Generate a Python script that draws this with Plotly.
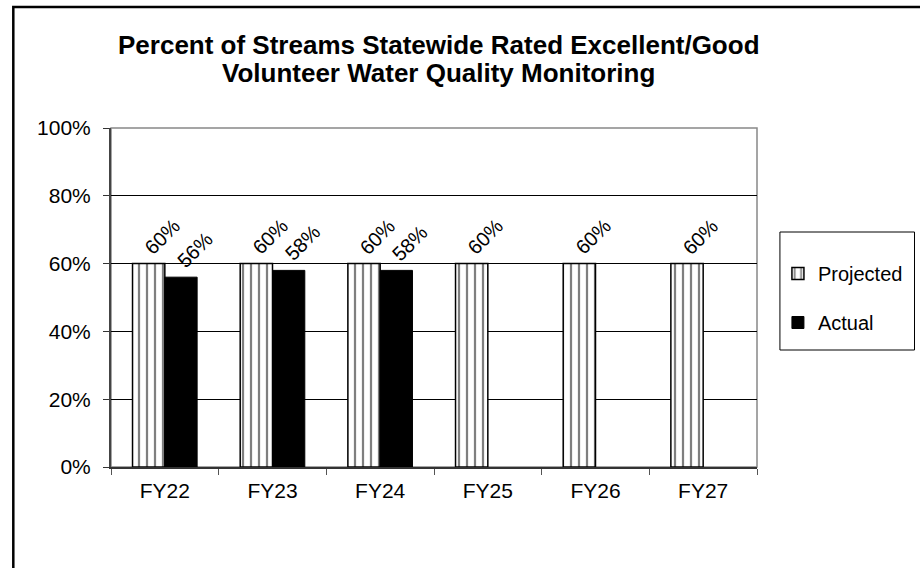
import plotly.graph_objects as go

categories = ["FY22", "FY23", "FY24", "FY25", "FY26", "FY27"]
projected = [60, 60, 60, 60, 60, 60]
actual = [56, 58, 58, None, None, None]
yticks = [0, 20, 40, 60, 80, 100]
ytick_labels = ["0%", "20%", "40%", "60%", "80%", "100%"]
title_lines = ["Percent of Streams Statewide Rated Excellent/Good",
               "Volunteer Water Quality Monitoring"]

FONT = "Arial, Liberation Sans, sans-serif"

fig = go.Figure()
fig.add_trace(go.Bar(
    x=categories, y=projected, name="Projected",
    marker=dict(color="white", line=dict(color="black", width=1.5),
                pattern=dict(shape="|", fgcolor="black", bgcolor="white",
                             size=8, solidity=0.28)),
    legendgroup="a",
))
fig.add_trace(go.Bar(
    x=categories, y=actual, name="Actual",
    marker=dict(color="black", line=dict(color="black", width=1)),
    legendgroup="b",
))

W, H = 920, 568
L, R, T, B = 111, 161, 128, 101
pw, ph = W - L - R, H - T - B

def px(x):
    return (x - L) / pw

def py(y):
    return (H - B - y) / ph

annotations = [
    dict(text="<b>" + title_lines[0] + "</b>", xref="paper", yref="paper",
         x=px(440), y=py(45), xanchor="center", yanchor="middle",
         showarrow=False, font=dict(size=26, family=FONT, color="black")),
    dict(text="<b>" + title_lines[1] + "</b>", xref="paper", yref="paper",
         x=px(440), y=py(73), xanchor="center", yanchor="middle",
         showarrow=False, font=dict(size=26, family=FONT, color="black")),
]

label_font = dict(size=20, family=FONT, color="black")
for cat, v in zip(categories, projected):
    annotations.append(dict(text=f"{v}%", x=cat, y=v, xref="x", yref="y",
                            xanchor="center", yanchor="middle", textangle=-45,
                            xshift=-3, yshift=27, showarrow=False, font=label_font))
for cat, v in zip(categories, actual):
    if v is None:
        continue
    annotations.append(dict(text=f"{v}%", x=cat, y=v, xref="x", yref="y",
                            xanchor="center", yanchor="middle", textangle=-45,
                            xshift=30, yshift=27, showarrow=False, font=label_font))

fig.update_layout(
    width=W, height=H,
    margin=dict(l=L, r=R, t=T, b=B),
    paper_bgcolor="white", plot_bgcolor="white",
    font=dict(family=FONT, size=21, color="black"),
    barmode="group", bargap=0.4, bargroupgap=0,
    showlegend=True,
    legend=dict(x=px(780), y=py(254), xanchor="left", yanchor="top",
                borderwidth=0, bgcolor="rgba(0,0,0,0)",
                font=dict(size=20, family=FONT), traceorder="grouped",
                tracegroupgap=20, itemwidth=30),
    annotations=annotations,
    xaxis=dict(showgrid=False, showline=True, linecolor="#333", linewidth=1.5,
               ticks="outside", tickson="boundaries", ticklen=6,
               tickcolor="#555", tickfont=dict(size=21), ticklabelstandoff=4),
    yaxis=dict(range=[0, 100], tickmode="array", tickvals=yticks,
               ticktext=ytick_labels,
               showgrid=True, gridcolor="black", gridwidth=1,
               showline=True, linecolor="#444", linewidth=2,
               ticks="outside", ticklen=6, tickcolor="#333",
               tickfont=dict(size=21), zeroline=False, ticklabelstandoff=8),
    shapes=[
        dict(type="rect", xref="paper", yref="paper", x0=0, x1=1, y0=0, y1=1,
             line=dict(color="#888", width=1.5), layer="below"),
        dict(type="rect", xref="paper", yref="paper",
             x0=px(782), x1=px(917), y0=py(350), y1=py(232),
             line=dict(color="black", width=1), layer="below"),
        dict(type="rect", xref="paper", yref="paper",
             x0=px(13), x1=px(940), y0=py(600), y1=py(7),
             line=dict(color="black", width=2.5)),
    ],
)

fig.write_html("out.html", config={"displayModeBar": False},
               post_script="document.body.style.margin='0';")
